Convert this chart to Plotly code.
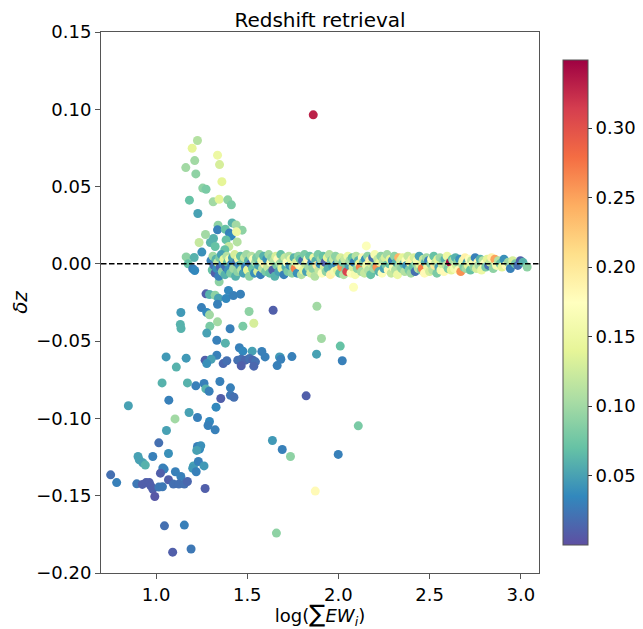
import plotly.graph_objects as go

# ---- scattered (off-band) points: x = log(sum EW), y = delta z, c = colour value
out_x = [1.227,1.198,1.212,1.163,1.218,1.337,1.348,1.361,1.256,1.274,1.183,1.313,1.346,1.393,1.413,1.229,
         1.417,1.439,1.340,1.337,1.380,1.472,1.271,1.402,1.412,1.441,1.315,1.384,1.445,1.236,1.298,1.324,
         1.399,1.251,1.377,1.165,1.209,1.176,1.201,1.212,1.346,1.862,2.153,
         1.274,1.293,1.324,1.342,1.397,1.384,1.424,1.463,1.337,1.249,1.136,1.278,1.293,1.510,1.642,1.337,
         1.536,1.133,1.137,1.295,1.476,1.406,1.278,1.333,1.380,1.457,1.476,1.527,1.580,1.598,1.333,1.055,
         1.165,1.269,1.302,1.278,1.368,1.388,1.448,1.467,1.490,1.512,1.531,1.545,1.467,1.536,1.664,1.681,
         1.677,1.684,1.745,1.880,2.021,1.882,1.907,2.010,2.083,1.111,1.033,1.172,1.218,1.263,1.350,1.273,
         1.291,1.408,1.408,1.427,1.355,1.070,0.848,1.329,1.823,1.181,1.227,1.104,1.293,1.285,1.324,1.057,
         2.109,1.015,1.068,0.982,0.901,0.908,0.927,0.941,1.037,1.044,1.024,1.106,1.136,1.068,1.227,1.238,
         1.245,1.223,1.205,1.201,1.232,1.220,1.263,1.269,0.751,0.784,0.894,0.925,0.945,0.963,0.971,0.982,
         1.015,1.035,0.993,1.095,1.125,1.155,1.172,1.638,1.692,1.737,1.999,1.873,1.660,1.046,1.155,1.091,
         1.192]
out_y = [0.0798,0.0748,0.0668,0.0623,0.0582,0.0703,0.0642,0.0532,0.0490,0.0483,0.0412,0.0401,0.0418,0.0414,0.0382,0.0326,
         0.0265,0.0252,0.0250,0.0220,0.0224,0.0218,0.0190,0.0199,0.0181,0.0207,0.0164,0.0155,0.0142,0.0138,0.0138,0.0112,
         0.0112,0.0076,0.0091,0.0045,0.0041,0.0000,-0.0032,-0.0043,-0.0116,0.0964,0.0116,
         -0.0194,-0.0198,-0.0203,-0.0222,-0.0172,-0.0224,-0.0205,-0.0196,-0.0261,-0.0283,-0.0315,-0.0315,-0.0330,-0.0308,-0.0300,-0.0375,
         -0.0384,-0.0392,-0.0418,-0.0403,-0.0403,-0.0420,-0.0448,-0.0494,-0.0513,-0.0543,-0.0565,-0.0565,-0.0567,-0.0602,-0.0591,-0.0602,
         -0.0610,-0.0623,-0.0617,-0.0645,-0.0645,-0.0627,-0.0623,-0.0617,-0.0623,-0.0612,-0.0623,-0.0634,-0.0660,-0.0662,-0.0658,-0.0606,
         -0.0602,-0.0617,-0.0600,-0.0584,-0.0627,-0.0274,-0.0483,-0.0532,-0.0151,-0.0668,-0.0770,-0.0770,-0.0789,-0.0774,-0.0761,-0.0809,
         -0.0824,-0.0802,-0.0850,-0.0863,-0.0871,-0.0882,-0.0918,-0.0927,-0.0854,-0.0962,-0.0994,-0.1003,-0.1020,-0.1046,-0.1074,-0.1078,
         -0.1048,-0.1158,-0.1227,-0.1246,-0.1246,-0.1268,-0.1287,-0.1302,-0.1320,-0.1328,-0.1354,-0.1345,-0.1376,-0.1397,-0.1181,-0.1199,
         -0.1177,-0.1207,-0.1307,-0.1322,-0.1279,-0.1345,-0.1307,-0.1453,-0.1365,-0.1415,-0.1423,-0.1427,-0.1415,-0.1415,-0.1436,-0.1457,
         -0.1444,-0.1442,-0.1505,-0.1425,-0.1425,-0.1425,-0.1408,-0.1143,-0.1201,-0.1246,-0.1233,-0.1470,-0.1742,-0.1695,-0.1690,-0.1865,
         -0.1845]
out_c = [0.11,0.14,0.10,0.10,0.09,0.15,0.13,0.14,0.09,0.08,0.07,0.10,0.14,0.09,0.08,0.05,
         0.06,0.10,0.09,0.03,0.07,0.09,0.10,0.03,0.035,0.15,0.06,0.07,0.11,0.12,0.06,0.07,
         0.12,0.04,0.07,0.09,0.06,0.07,0.03,0.035,0.09,0.33,0.17,
         0.01,0.06,0.09,0.05,0.035,0.035,0.03,0.03,0.03,0.03,0.045,0.035,0.10,0.09,0.01,0.10,
         0.13,0.06,0.06,0.08,0.08,0.03,0.05,0.03,0.06,0.03,0.035,0.05,0.03,0.03,0.03,0.045,
         0.045,0.01,0.05,0.04,0.015,0.02,0.02,0.02,0.015,0.02,0.015,0.02,0.01,0.015,0.03,0.05,
         0.045,0.03,0.03,0.05,0.03,0.10,0.10,0.07,0.17,0.06,0.06,0.06,0.03,0.03,0.03,0.06,
         0.03,0.03,0.025,0.02,0.01,0.03,0.05,0.035,0.01,0.05,0.03,0.10,0.035,0.03,0.03,0.05,
         0.08,0.02,0.04,0.03,0.05,0.05,0.05,0.06,0.03,0.03,0.01,0.03,0.03,0.01,0.03,0.035,
         0.04,0.05,0.05,0.045,0.03,0.03,0.045,0.01,0.02,0.03,0.025,0.01,0.01,0.01,0.01,0.01,
         0.025,0.025,0.005,0.02,0.02,0.02,0.015,0.045,0.03,0.09,0.03,0.18,0.09,0.02,0.03,0.01,
         0.025]

# ---- dense band around delta z = 0
band_x = [1.301,1.308,1.312,1.318,1.324,1.329,1.333,1.338,1.344,1.349,1.352,1.358,1.363,1.367,1.372,1.378,1.383,
          1.388,1.392,1.397,1.403,1.409,1.414,1.419,1.425,1.431,1.436,1.442,1.447,1.452,1.458,1.463,1.468,
          1.474,1.479,1.485,1.490,1.496,1.501,1.507,1.512,1.518,1.523,1.529,1.534,1.540,1.546,1.551,1.557,
          1.562,1.568,1.573,1.579,1.584,1.590,1.596,1.601,1.607,1.612,1.618,1.623,1.629,1.634,1.640,1.646,
          1.651,1.657,1.662,1.668,1.673,1.679,1.684,1.690,1.696,1.701,1.707,1.712,1.718,1.723,1.729,1.734,
          1.740,1.746,
          1.752,1.757,1.763,1.769,1.774,1.780,1.786,1.791,1.797,1.803,1.808,1.814,1.820,1.825,1.831,1.837,
          1.842,1.848,1.854,1.859,1.865,1.871,1.876,1.882,1.888,1.893,1.899,1.905,1.910,1.916,1.922,1.927,
          1.933,1.939,1.944,1.950,1.956,1.961,1.967,1.973,1.978,1.984,1.990,1.995,2.001,2.007,2.012,2.018,
          2.024,2.029,
          2.035,2.041,2.046,2.052,2.058,2.063,2.069,2.075,2.080,2.086,2.092,2.097,2.103,2.109,2.114,2.120,
          2.126,2.131,2.137,2.143,2.148,2.154,2.160,2.165,2.171,2.177,2.182,2.188,2.194,2.199,2.205,2.211,
          2.216,2.222,2.228,2.233,2.239,2.245,2.250,2.256,2.262,2.267,2.273,2.279,2.284,2.290,2.296,2.301,
          2.307,2.313,2.318,2.324,2.330,2.335,2.341,
          2.347,2.352,2.358,2.364,2.369,2.375,2.381,2.387,2.392,2.398,2.404,2.409,2.415,2.421,2.426,2.432,
          2.438,2.443,2.449,2.455,2.460,2.466,2.472,2.477,2.483,2.489,2.494,2.500,2.506,2.511,2.517,2.523,
          2.528,2.534,2.540,2.545,2.551,2.557,2.562,2.568,2.574,2.579,2.585,2.591,2.596,2.602,2.608,2.614,
          2.619,2.625,
          2.631,2.637,2.642,2.648,2.654,2.660,2.665,2.671,2.677,2.683,2.688,2.694,2.700,2.706,2.712,2.718,
          2.724,2.730,2.737,2.743,2.750,2.757,2.764,2.771,2.778,2.785,2.792,2.800,2.808,2.816,2.824,2.832,
          2.840,2.849,2.858,2.867,2.877,2.887,2.897,2.908,2.919,2.931,2.943,2.956,2.970,2.984,2.998,3.012,
          3.035]
band_y = [0.002,-0.004,0.005,-0.001,-0.006,0.003,-0.003,0.001,-0.008,0.004,-0.002,0.006,-0.005,0.000,0.003,-0.007,-0.002,
          0.005,0.001,-0.004,0.003,-0.006,0.000,0.004,-0.003,0.006,-0.008,0.001,-0.005,0.003,-0.001,0.005,-0.004,
          0.001,-0.006,0.004,-0.002,0.006,-0.004,0.002,-0.008,0.000,0.005,-0.003,0.003,-0.006,0.001,0.004,-0.005,
          -0.001,0.006,-0.007,0.002,-0.003,0.005,0.000,-0.005,0.003,-0.002,0.006,-0.006,0.001,0.004,-0.004,0.002,
          -0.008,0.005,-0.001,0.003,-0.005,0.000,0.006,-0.003,0.002,-0.007,0.004,-0.002,0.001,-0.005,0.005,-0.001,
          0.003,-0.006,
          -0.002,0.004,-0.003,0.001,-0.006,0.005,-0.001,0.003,-0.007,0.002,-0.004,0.006,0.000,-0.005,0.003,-0.002,
          0.005,-0.006,0.001,-0.003,0.004,-0.008,0.002,-0.001,0.006,-0.004,0.000,0.003,-0.006,0.005,-0.002,0.001,
          -0.005,0.004,-0.003,0.006,-0.007,0.002,-0.001,0.003,-0.005,0.005,0.000,-0.004,0.002,-0.006,0.004,-0.002,
          0.001,-0.007,
          0.003,-0.004,-0.005,0.005,-0.001,0.002,-0.006,0.004,-0.002,0.001,-0.007,0.005,-0.003,0.002,0.000,-0.002,
          -0.005,0.004,0.001,-0.006,0.003,-0.001,0.005,-0.004,0.002,-0.007,0.000,0.004,-0.003,0.006,-0.001,-0.002,
          0.003,-0.005,0.001,0.005,-0.006,0.002,-0.003,0.004,-0.001,0.006,-0.004,0.000,0.003,-0.006,0.002,-0.002,
          0.005,-0.004,0.001,-0.007,0.004,-0.001,0.002,
          -0.003,0.004,0.000,-0.005,0.002,-0.001,0.005,-0.004,0.001,-0.006,0.003,-0.002,0.004,-0.005,0.000,0.002,
          -0.003,0.005,-0.001,-0.004,-0.003,0.003,-0.006,0.001,0.004,-0.002,0.002,-0.005,0.000,0.003,-0.004,0.005,
          -0.001,0.001,-0.006,0.003,-0.002,0.004,-0.004,0.000,0.002,-0.005,0.003,-0.001,0.005,-0.003,0.001,0.001,
          -0.004,0.003,
          0.002,-0.003,0.004,-0.001,0.001,-0.004,0.003,-0.005,0.000,0.002,-0.002,0.004,-0.003,0.001,-0.001,0.003,
          -0.004,0.002,0.000,-0.002,0.004,-0.003,0.001,-0.001,0.003,-0.004,0.002,0.000,-0.002,0.003,-0.001,0.001,
          0.004,-0.003,0.003,-0.001,0.002,0.000,-0.002,0.003,-0.001,0.001,-0.003,0.002,0.000,-0.001,0.002,0.001,
          -0.002]
band_c = [0.03,0.07,0.10,0.02,0.01,0.06,0.04,0.12,0.03,0.08,0.015,0.05,0.09,0.03,0.14,0.06,0.02,
          0.11,0.07,0.04,0.16,0.08,0.03,0.05,0.10,0.13,0.06,0.02,0.09,0.15,0.04,0.07,0.11,
          0.08,0.05,0.12,0.03,0.10,0.14,0.06,0.09,0.02,0.11,0.07,0.17,0.04,0.10,0.08,0.13,
          0.05,0.09,0.03,0.15,0.11,0.06,0.19,0.08,0.04,0.12,0.10,0.07,0.16,0.09,0.01,0.11,
          0.06,0.13,0.08,0.18,0.05,0.10,0.07,0.14,0.09,0.03,0.12,0.06,0.17,0.08,0.11,0.04,
          0.15,0.09,
          0.10,0.06,0.27,0.13,0.04,0.09,0.16,0.07,0.11,0.02,0.14,0.08,0.12,0.05,0.18,0.10,
          0.07,0.13,0.03,0.09,0.15,0.11,0.06,0.20,0.08,0.12,0.04,0.10,0.17,0.07,0.13,0.01,
          0.09,0.14,0.06,0.11,0.19,0.08,0.05,0.12,0.16,0.09,0.03,0.14,0.10,0.07,0.13,0.26,
          0.08,0.11,
          0.12,0.08,0.31,0.15,0.05,0.10,0.17,0.07,0.13,0.03,0.16,0.11,0.09,0.06,0.14,0.27,
          0.10,0.18,0.08,0.12,0.04,0.15,0.09,0.11,0.19,0.07,0.13,0.02,0.10,0.16,0.08,0.26,
          0.12,0.06,0.14,0.09,0.17,0.11,0.05,0.13,0.08,0.10,0.18,0.07,0.14,0.12,0.03,0.16,
          0.09,0.11,0.06,0.15,0.24,0.10,0.13,
          0.09,0.14,0.06,0.11,0.17,0.04,0.12,0.08,0.15,0.10,0.19,0.07,0.13,0.02,0.09,0.16,
          0.11,0.05,0.14,0.08,0.27,0.12,0.18,0.06,0.10,0.15,0.03,0.13,0.09,0.17,0.11,0.07,
          0.20,0.12,0.08,0.14,0.05,0.10,0.16,0.13,0.09,0.18,0.06,0.11,0.15,0.08,0.12,0.345,
          0.14,0.07,
          0.11,0.16,0.06,0.13,0.09,0.18,0.04,0.26,0.12,0.15,0.08,0.19,0.10,0.05,0.14,0.17,
          0.07,0.12,0.16,0.09,0.03,0.13,0.18,0.10,0.06,0.15,0.11,0.17,0.08,0.14,0.02,0.12,
          0.19,0.09,0.25,0.16,0.11,0.07,0.14,0.04,0.18,0.10,0.03,0.13,0.08,0.02,0.01,0.06,
          0.09]

x_ticks = [1.0, 1.5, 2.0, 2.5, 3.0]
x_ticktext = ["1.0", "1.5", "2.0", "2.5", "3.0"]
y_ticks = [-0.20, -0.15, -0.10, -0.05, 0.00, 0.05, 0.10, 0.15]
y_ticktext = ["\u22120.20", "\u22120.15", "\u22120.10", "\u22120.05", "0.00", "0.05", "0.10", "0.15"]
cb_ticks = [0.05, 0.10, 0.15, 0.20, 0.25, 0.30]
cb_ticktext = ["0.05", "0.10", "0.15", "0.20", "0.25", "0.30"]
c_min, c_max = 0.0, 0.349

nb = min(len(band_x), len(band_y), len(band_c))
no = min(len(out_x), len(out_y), len(out_c))
xs = out_x[:no] + band_x[:nb]
ys = out_y[:no] + band_y[:nb]
cs = out_c[:no] + band_c[:nb]

FONT = "DejaVu Sans"
# the page body has an 8px default margin, so the figure is sized to fit
OFF = 8
W, H = 643 - OFF, 629 - OFF
L, R, T, B = 101 - OFF, 104, 32 - OFF, 56
plot_w = W - L - R
plot_h = H - T - B

fig = go.Figure()
fig.add_trace(go.Scatter(
    x=xs, y=ys, mode="markers",
    marker=dict(size=9, color=cs, colorscale="Spectral_r", cmin=c_min, cmax=c_max,
                line=dict(width=0), opacity=1,
                colorbar=dict(
                    x=(563 - 101) / plot_w, xanchor="left", xpad=0,
                    y=0.5, yanchor="middle", ypad=0,
                    len=485 / plot_h, lenmode="fraction",
                    thickness=25, thicknessmode="pixels",
                    outlinewidth=1, outlinecolor="#555555",
                    tickmode="array", tickvals=cb_ticks, ticktext=cb_ticktext,
                    ticks="outside", ticklen=4, tickwidth=1, tickcolor="#333333",
                    tickfont=dict(family=FONT, size=18, color="#000000"),
                )),
    showlegend=False, hoverinfo="skip",
))

fig.add_shape(type="line", xref="paper", yref="y", x0=0, x1=1, y0=0, y1=0,
              line=dict(color="black", width=1.5, dash="5.5px,2.5px"), layer="above")

fig.update_layout(
    width=W, height=H, margin=dict(l=L, r=R, t=T, b=B, autoexpand=False),
    paper_bgcolor="white", plot_bgcolor="white",
    font=dict(family=FONT, size=18, color="#000000"),
    title=dict(text="Redshift retrieval", x=(L + plot_w / 2) / W, xanchor="center",
               y=1 - (20 - OFF) / H, yanchor="middle", font=dict(family=FONT, size=20)),
    xaxis=dict(range=[0.698, 3.10], tickmode="array", tickvals=x_ticks, ticktext=x_ticktext,
               showgrid=False, zeroline=False, showline=True, mirror=True,
               linecolor="#555555", linewidth=1, ticks="outside", ticklen=5, tickcolor="#555555",
               tickfont=dict(family=FONT, size=18),
               title=dict(text="log(<span style=\"font-size:24px\">\u2211</span><i>EW</i><sub><i>i</i></sub>)",
                          standoff=0, font=dict(family=FONT, size=18))),
    yaxis=dict(range=[-0.20, 0.15], tickmode="array", tickvals=y_ticks, ticktext=y_ticktext,
               showgrid=False, zeroline=False, showline=True, mirror=True,
               linecolor="#555555", linewidth=1, ticks="outside", ticklen=5, tickcolor="#555555",
               tickfont=dict(family=FONT, size=18),
               title=dict(text="<i>\u03b4z</i>", standoff=8, font=dict(family=FONT, size=20))),
)

fig.write_html("out.html")
